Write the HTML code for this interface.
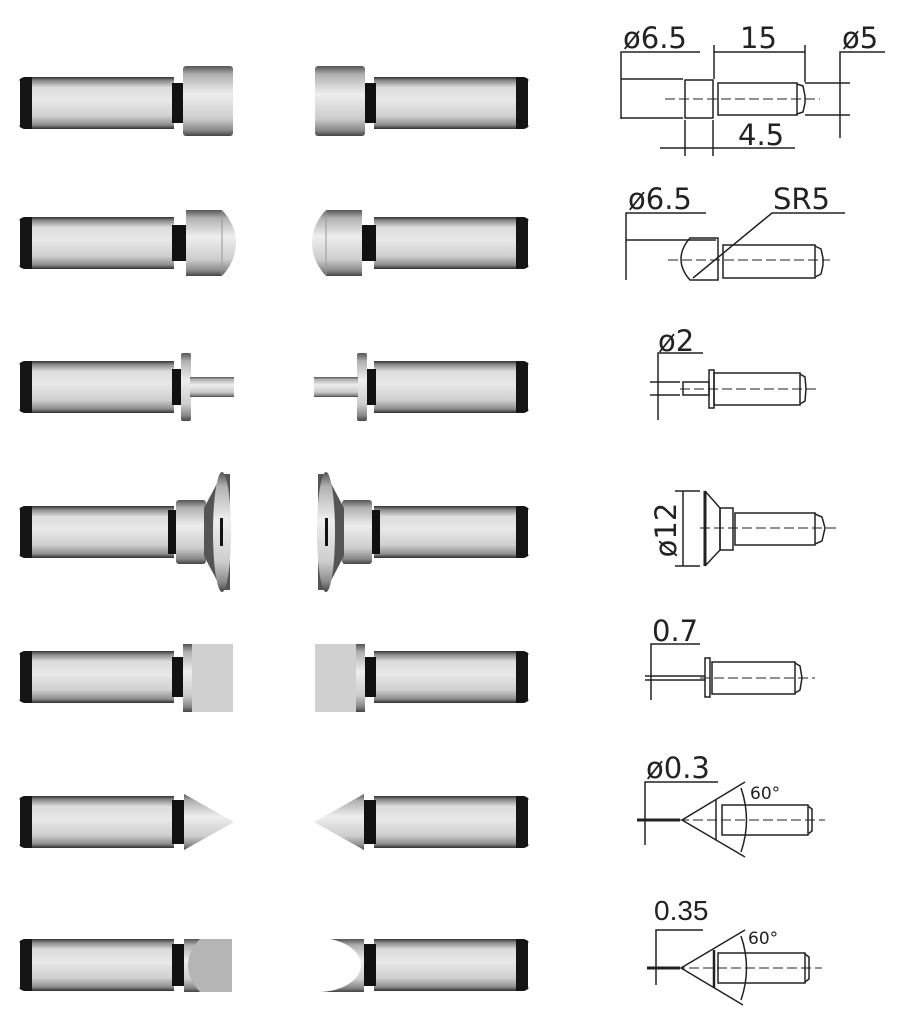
<!DOCTYPE html>
<html><head><meta charset="utf-8"><style>
html,body{margin:0;padding:0;background:#fff}
svg{display:block}
text{font-family:"DejaVu Sans","Liberation Sans",sans-serif;fill:#222}
</style></head><body>
<svg width="899" height="1024" viewBox="0 0 899 1024" xmlns="http://www.w3.org/2000/svg">
<defs>
<linearGradient id="m" x1="0" y1="0" x2="0" y2="1">
<stop offset="0" stop-color="#333"/><stop offset="0.07" stop-color="#8a8a8a"/>
<stop offset="0.2" stop-color="#dcdcdc"/><stop offset="0.45" stop-color="#e8e8e8"/>
<stop offset="0.75" stop-color="#cfcfcf"/><stop offset="0.92" stop-color="#8f8f8f"/>
<stop offset="1" stop-color="#2e2e2e"/></linearGradient>
<linearGradient id="mh" x1="0" y1="0" x2="0" y2="1">
<stop offset="0" stop-color="#555"/><stop offset="0.12" stop-color="#b0b0b0"/>
<stop offset="0.4" stop-color="#eee"/><stop offset="0.75" stop-color="#cdcdcd"/>
<stop offset="0.92" stop-color="#888"/><stop offset="1" stop-color="#444"/></linearGradient>
<g id="body">
<path d="M20,-22 Q18,-24 24,-26 L34,-26 L34,26 L24,26 Q18,24 20,22 Z" fill="#151515"/>
<rect x="32" y="-26" width="142" height="52" fill="url(#m)"/>
</g>
</defs>

<!-- Row 1 -->
<g id="r1"><g transform="translate(0,103)"><use href="#body"/>
<rect x="172" y="-20" width="12" height="40" fill="#111"/>
<rect x="183" y="-37" width="50" height="70" rx="3" fill="url(#mh)"/></g></g>
<use href="#r1" transform="translate(548,0) scale(-1,1)"/>

<!-- Row 2 -->
<g id="r2"><g transform="translate(0,243)"><use href="#body"/>
<rect x="172" y="-18" width="14" height="36" fill="#111"/>
<path d="M186,-33 L222,-33 Q236,-18 236,0 Q236,18 222,33 L186,33 Z" fill="url(#mh)"/>
<line x1="222" y1="-33" x2="222" y2="33" stroke="#999" stroke-width="1"/></g></g>
<use href="#r2" transform="translate(548,0) scale(-1,1)"/>

<!-- Row 3 -->
<g id="r3"><g transform="translate(0,387)"><use href="#body"/>
<rect x="172" y="-18" width="10" height="36" fill="#111"/>
<rect x="181" y="-34" width="10" height="68" rx="2" fill="url(#mh)"/>
<rect x="190" y="-10" width="44" height="20" fill="url(#mh)"/></g></g>
<use href="#r3" transform="translate(548,0) scale(-1,1)"/>

<!-- Row 4 -->
<g id="r4"><g transform="translate(0,532)"><use href="#body"/>
<rect x="168" y="-22" width="10" height="44" fill="#111"/>
<rect x="176" y="-32" width="30" height="64" rx="3" fill="url(#mh)"/>
<path d="M204,-24 L222,-58 L230,-58 L230,58 L222,58 L204,24 Z" fill="#555"/>
<ellipse cx="222" cy="0" rx="9" ry="60" fill="url(#mh)"/>
<rect x="220" y="-14" width="3" height="28" fill="#111"/></g></g>
<use href="#r4" transform="translate(548,0) scale(-1,1)"/>

<!-- Row 5 -->
<g id="r5"><g transform="translate(0,677)"><use href="#body"/>
<rect x="172" y="-20" width="12" height="40" fill="#111"/>
<rect x="183" y="-33" width="10" height="68" fill="url(#mh)"/>
<rect x="192" y="-33" width="41" height="68" fill="#d0d0d0"/></g></g>
<use href="#r5" transform="translate(548,0) scale(-1,1)"/>

<!-- Row 6 -->
<g id="r6"><g transform="translate(0,822)"><use href="#body"/>
<rect x="172" y="-22" width="12" height="44" fill="#111"/>
<path d="M184,-28 L234,0 L184,28 Z" fill="url(#mh)"/></g></g>
<use href="#r6" transform="translate(548,0) scale(-1,1)"/>

<!-- Row 7 -->
<g transform="translate(0,965)"><use href="#body"/>
<rect x="172" y="-21" width="12" height="42" fill="#111"/>
<rect x="184" y="-26" width="48" height="53" fill="url(#mh)"/>
<path d="M200,-26 L232,-26 L232,27 L200,27 Q188,14 188,0 Q188,-14 200,-26 Z" fill="#b5b5b5"/></g>
<g transform="translate(548,965) scale(-1,1)"><use href="#body"/>
<rect x="172" y="-21" width="12" height="42" fill="#111"/></g>
<g transform="translate(0,965)">
<rect x="316" y="-26" width="48" height="53" fill="url(#mh)"/>
<ellipse cx="318" cy="0" rx="43" ry="27" fill="#fff"/>
<rect x="300" y="-30" width="18" height="60" fill="#fff"/></g>

<!-- Drawings -->
<g stroke="#222" stroke-width="1.5" fill="none">
<polyline points="700,52 621,52 621,119"/>
<line x1="621" y1="79" x2="683" y2="79"/><line x1="621" y1="118" x2="683" y2="118"/>
<rect x="685" y="80" width="28" height="38"/>
<rect x="718" y="83" width="79" height="32"/>
<path d="M797,84 L803,86 L805,96 L805,103 L803,112 L797,114"/>
<line x1="714" y1="45" x2="714" y2="79"/><line x1="805" y1="45" x2="805" y2="82"/>
<line x1="714" y1="52" x2="805" y2="52"/>
<polyline points="885,52 840,52 840,138"/>
<line x1="805" y1="83" x2="850" y2="83"/><line x1="805" y1="115" x2="850" y2="115"/>
<line x1="685" y1="120" x2="685" y2="156"/><line x1="713" y1="120" x2="713" y2="156"/>
<line x1="660" y1="148" x2="795" y2="148"/>
<line x1="665" y1="99" x2="820" y2="99" stroke-dasharray="10,4" stroke-width="1"/>
<polyline points="706,213 626,213 626,280"/>
<line x1="626" y1="240" x2="716" y2="240"/>
<path d="M690,238 L718,238 L718,280 L690,280 Q681,270 681,259 Q681,248 690,238 Z"/>
<rect x="723" y="245" width="92" height="33"/>
<path d="M815,246 L821,249 L823,258 L823,265 L821,274 L815,277"/>
<polyline points="845,213 772,213 693,278"/>
<line x1="668" y1="260" x2="830" y2="260" stroke-dasharray="10,4" stroke-width="1"/>
<polyline points="703,353 658,353 658,420"/>
<line x1="650" y1="382" x2="680" y2="382"/><line x1="650" y1="395" x2="680" y2="395"/>
<rect x="683" y="382" width="26" height="13"/>
<rect x="709" y="370" width="5" height="38"/>
<rect x="714" y="373" width="86" height="32"/>
<path d="M800,374 L805,377 L806,389 L805,401 L800,404"/>
<line x1="680" y1="389" x2="820" y2="389" stroke-dasharray="10,4" stroke-width="1"/>
<line x1="675" y1="491" x2="700" y2="491"/><line x1="675" y1="566" x2="700" y2="566"/>
<line x1="683" y1="491" x2="683" y2="566"/>
<line x1="705" y1="491" x2="705" y2="566" stroke-width="3"/>
<polyline points="705,491 720,508 720,550 705,566"/>
<rect x="720" y="508" width="13" height="42"/>
<rect x="735" y="513" width="80" height="32"/>
<path d="M815,514 L822,517 L825,528 L822,541 L815,544"/>
<line x1="700" y1="528" x2="840" y2="528" stroke-dasharray="10,4" stroke-width="1"/>
<polyline points="700,644 651,644 651,700"/>
<line x1="645" y1="676" x2="705" y2="676"/><line x1="645" y1="680" x2="705" y2="680"/>
<rect x="705" y="658" width="5" height="39"/>
<rect x="712" y="662" width="83" height="32"/>
<path d="M795,663 L800,666 L802,678 L800,690 L795,693"/>
<line x1="700" y1="678" x2="815" y2="678" stroke-dasharray="10,4" stroke-width="1"/>
<polyline points="718,782 645,782 645,845"/>
<line x1="637" y1="820" x2="680" y2="820" stroke-width="3"/>
<polyline points="745,782 682,820 745,857"/>
<line x1="716" y1="800" x2="716" y2="840"/>
<rect x="722" y="805" width="86" height="30"/>
<path d="M808,806 L812,809 L812,831 L808,834"/>
<path d="M741,788 Q752,820 741,852"/>
<line x1="637" y1="820" x2="825" y2="820" stroke-dasharray="10,4" stroke-width="1"/>
<polyline points="703,930 656,930 656,985"/>
<line x1="647" y1="968" x2="680" y2="968" stroke-width="3"/>
<polyline points="745,930 681,968 743,1005"/>
<line x1="714" y1="950" x2="714" y2="988" stroke-width="2.5"/>
<rect x="718" y="953" width="87" height="30"/>
<path d="M805,954 L809,957 L809,979 L805,982"/>
<path d="M741,936 Q752,968 741,1000"/>
<line x1="647" y1="968" x2="822" y2="968" stroke-dasharray="10,4" stroke-width="1"/>
</g>
<g font-size="29">
<text x="623" y="48">ø6.5</text>
<text x="740" y="48">15</text>
<text x="842" y="48">ø5</text>
<text x="738" y="145">4.5</text>
<text x="628" y="209">ø6.5</text>
<text x="773" y="209">SR5</text>
<text x="658" y="351">ø2</text>
<text transform="translate(676,530) rotate(-90)" text-anchor="middle">ø12</text>
<text x="652" y="641">0.7</text>
<text x="646" y="778">ø0.3</text>
<text x="654" y="920" style="font-family:'Liberation Sans',sans-serif" font-size="28">0.35</text>
</g>
<text x="750" y="799" font-size="17">60°</text>
<text x="748" y="944" font-size="17">60°</text>
</svg>
</body></html>
